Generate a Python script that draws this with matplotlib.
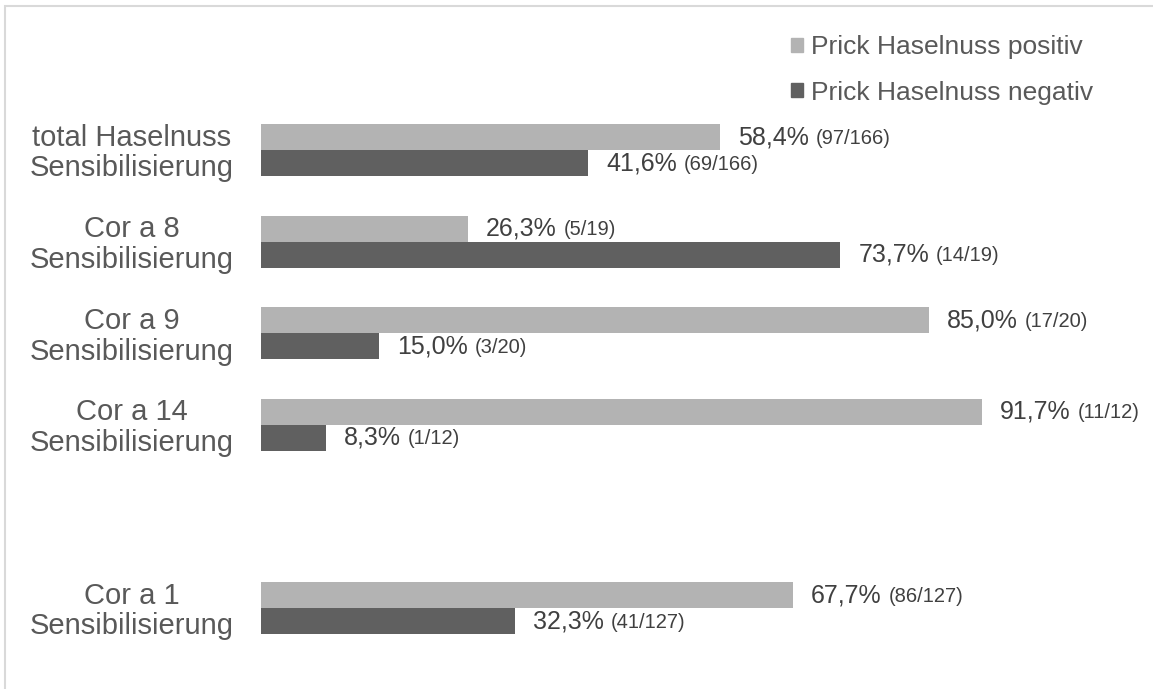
# Prick-Test Haselnuss nach Sensibilisierungsmuster
import numpy as np
import matplotlib.pyplot as plt
from matplotlib.patches import Rectangle

plt.rcParams['font.family'] = ['Liberation Sans', 'DejaVu Sans']

# Daten
categories = ['total Haselnuss\nSensibilisierung', 'Cor a 8\nSensibilisierung',
              'Cor a 9\nSensibilisierung', 'Cor a 14\nSensibilisierung',
              '', 'Cor a 1\nSensibilisierung']
pct_pos = [58.4, 26.3, 85.0, 91.7, None, 67.7]
pct_neg = [41.6, 73.7, 15.0, 8.3, None, 32.3]
n_pos = [97, 5, 17, 11, None, 86]
n_neg = [69, 14, 3, 1, None, 41]
n_total = [166, 19, 20, 12, None, 127]
series = ['Prick Haselnuss positiv', 'Prick Haselnuss negativ']

c_pos = '#b3b3b3'
c_neg = '#606060'
txt = '#595959'
val_txt = '#404040'

fig = plt.figure(figsize=(11.53, 6.89), dpi=100)
ax = fig.add_axes([261 / 1153, 0, 1 - 261 / 1153, 1])

spacing = 91.6
px = 7.86  # Pixel pro Prozentpunkt
ax.set_xlim(0, (1153 - 261) / px)
ax.set_ylim((689 - 150) / spacing, -150 / spacing)
h = 26 / spacing

renderer = fig.canvas.get_renderer()
for i in range(len(categories)):
    if pct_pos[i] is None:
        continue
    ax.barh(i - h / 2, pct_pos[i], height=h, color=c_pos)
    ax.barh(i + h / 2, pct_neg[i], height=h, color=c_neg)
    for y, p, n in [(i - h / 2, pct_pos[i], n_pos[i]), (i + h / 2, pct_neg[i], n_neg[i])]:
        t = ax.annotate(f'{p:.1f}%'.replace('.', ','), (p, y), xytext=(18, 0),
                        textcoords='offset pixels', va='center', ha='left',
                        fontsize=18, color=val_txt)
        w = t.get_window_extent(renderer).width
        ax.annotate(f'({n}/{n_total[i]})', (p, y), xytext=(18 + w + 7, -1),
                    textcoords='offset pixels', va='center', ha='left',
                    fontsize=14.5, color=val_txt)
    ax.annotate(categories[i], ((132 - 261) / px, i), xytext=(0, -3),
                textcoords='offset pixels', ha='center', va='center', fontsize=21,
                color=txt, linespacing=1.12, multialignment='center',
                annotation_clip=False)

ax.axis('off')

handles = [Rectangle((0, 0), 1, 1, color=c_pos), Rectangle((0, 0), 1, 1, color=c_neg)]
fig.legend(handles, series, loc='upper left', bbox_to_anchor=(791 / 1153, 1 - 35 / 689),
           frameon=False, fontsize=19, labelcolor=txt, handlelength=0.45,
           handleheight=0.45, handletextpad=0.3, labelspacing=0.82,
           borderpad=0, borderaxespad=0)

# Rahmen
fig.patches.append(Rectangle((5 / 1153, -0.1), 1.2, 1.1 - 6 / 689, transform=fig.transFigure,
                             fill=False, edgecolor='#d9d9d9', linewidth=1.5))

fig.savefig('out.png', dpi=100)
